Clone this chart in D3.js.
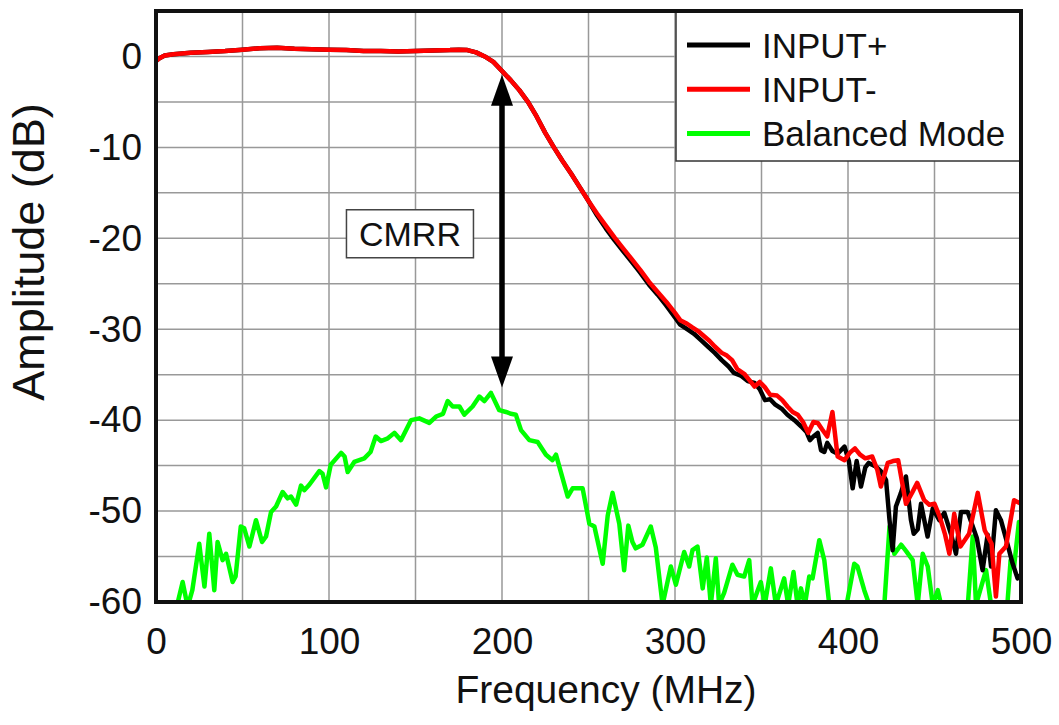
<!DOCTYPE html>
<html><head><meta charset="utf-8">
<script src="https://cdn.jsdelivr.net/npm/d3@7/dist/d3.min.js"></script>
<style>
html,body{margin:0;padding:0;background:#fff;}
svg{display:block;font-family:"Liberation Sans",Arial,sans-serif;}
</style></head><body>
<svg id="chart" width="1059" height="725"></svg>
<script>
// ---------------- DATA ----------------
const xTickValues = [0, 100, 200, 300, 400, 500];
const yTickValues = [0, -10, -20, -30, -40, -50, -60];
const xGridValues = [50, 100, 150, 200, 250, 300, 350, 400, 450];
const yGridValues = [0, -5, -10, -15, -20, -25, -30, -35, -40, -45, -50, -55];
const xTitle = "Frequency (MHz)";
const yTitle = "Amplitude (dB)";
const seriesNames = ["INPUT+", "INPUT-", "Balanced Mode"];
const seriesColors = ["#000000", "#ff0000", "#00ff00"];
const annotationText = "CMRR";
const cmrrFreq = 200, cmrrTopDb = -2.0, cmrrBottomDb = -36.4;
const cmrrLabelFreq = 146.8, cmrrLabelDb = -19.5;

// INPUT- (red)
const freqMinus = [
  0, 2, 5, 10, 20, 30, 40, 50, 60, 70,
  80, 90, 100, 110, 120, 130, 140, 150, 160, 170,
  175, 180, 185, 190, 195, 200, 205, 210, 215, 220,
  225, 230, 235, 240, 245, 250, 255, 260, 265, 270,
  275, 280, 285, 290, 295, 300, 303, 307, 310, 314,
  317, 320, 323, 327, 330, 333, 336, 340, 343, 346,
  349, 352, 355, 359, 362, 365, 368, 371, 374, 377,
  380, 382.5, 385, 388, 391, 394, 398, 401, 404, 407,
  410, 414, 417, 419, 423, 426, 429, 433.5, 437, 440,
  444, 447, 450, 453, 456, 458.6, 461.4, 465, 470, 475,
  479, 483, 485.5, 487.5, 491.3, 496, 500];
const minusDb = [
  -0.5, -0.2, 0.1, 0.25, 0.4, 0.5, 0.6, 0.75, 0.9, 0.95,
  0.85, 0.8, 0.75, 0.7, 0.6, 0.6, 0.55, 0.6, 0.65, 0.7,
  0.75, 0.7, 0.45, 0.0, -0.6, -1.6, -2.6, -3.7, -5.0, -6.6,
  -8.4, -10.0, -11.5, -12.9, -14.4, -15.9, -17.3, -18.6, -19.9, -21.1,
  -22.3, -23.5, -24.8, -25.9, -27.0, -28.2, -29.0, -29.4, -29.8, -30.3,
  -30.8, -31.3, -31.9, -32.6, -32.9, -33.4, -34.4, -34.9, -35.6, -36.3,
  -35.8, -36.4, -37.2, -37.3, -37.8, -38.5, -39.1, -39.4, -40.2, -41.4,
  -40.2, -40.3, -41.0, -41.8, -39.1, -44.0, -44.4, -43.6, -43.1, -43.8,
  -44.2, -44.0, -45.5, -47.3, -44.7, -44.5, -44.4, -49.2, -48.0, -46.9,
  -48.8, -49.3, -49.2, -50.6, -52.5, -54.7, -50.3, -53.9, -52.5, -48.0,
  -52.1, -53.6, -59.4, -54.7, -53.9, -48.8, -49.2];

// INPUT+ (black)
const freqPlus = [
  0, 2, 5, 10, 20, 30, 40, 50, 60, 70,
  80, 90, 100, 110, 120, 130, 140, 150, 160, 170,
  175, 180, 185, 190, 195, 200, 205, 210, 215, 220,
  225, 230, 235, 240, 245, 250, 255, 260, 265, 270,
  275, 280, 285, 290, 295, 300, 303, 307, 311, 315,
  319, 323, 327, 331, 334, 338, 342, 346, 349, 352,
  355, 358, 362, 365, 369, 373, 376, 378, 380, 382.5,
  384.4, 386.3, 388, 391, 394, 398, 400.5, 402.7, 405, 407.5,
  410, 412, 416, 419, 422, 424, 425.8, 427.7, 430.6, 433.5,
  436.4, 438, 440.3, 442.2, 446, 449, 452.8, 455.7, 459.5, 462.4,
  465.3, 469.2, 474.5, 477.8, 480.7, 482.7, 485.5, 488.4, 492, 495.2,
  498, 500];
const plusDb = [
  -0.5, -0.2, 0.1, 0.25, 0.4, 0.5, 0.6, 0.75, 0.9, 0.95,
  0.85, 0.8, 0.75, 0.7, 0.6, 0.6, 0.55, 0.6, 0.65, 0.7,
  0.75, 0.7, 0.45, 0.0, -0.6, -1.6, -2.6, -3.7, -5.0, -6.6,
  -8.4, -10.0, -11.5, -12.9, -14.4, -15.9, -17.5, -18.9, -20.2, -21.4,
  -22.6, -23.8, -25.1, -26.2, -27.4, -28.7, -29.5, -30.0, -30.5, -31.2,
  -31.9, -32.6, -33.4, -34.1, -34.8, -35.1, -35.7, -35.9, -36.6, -37.8,
  -37.7, -38.3, -38.8, -39.4, -40.0, -40.7, -41.3, -42.2, -41.8, -41.4,
  -43.3, -43.5, -42.5, -43.4, -43.7, -42.9, -44.5, -47.5, -44.5, -47.3,
  -45.2, -44.7, -45.1, -45.6, -46.6, -51.0, -54.3, -49.5, -48.0, -46.2,
  -51.0, -52.5, -52.0, -49.2, -52.8, -49.7, -51.0, -50.2, -52.5, -54.7,
  -50.1, -50.1, -53.0, -56.5, -52.6, -56.1, -49.9, -51.0, -53.5, -55.8,
  -57.4, -57.0];

// Balanced Mode (green)
const freqBalanced = [
  8, 12, 15.4, 18.3, 21, 25, 28, 30.8, 33.7, 35.6,
  38.5, 40.5, 44.3, 46, 49, 51, 54, 57.8, 61.3, 63.6,
  66.5, 69.4, 73.2, 76.1, 78, 81, 83.8, 85.7, 88.6, 94.4,
  96.3, 98.3, 101, 107, 109, 110.8, 114.6, 120.4, 124, 127,
  130, 134, 137.8, 141.6, 147.4, 152.2, 158, 161.9, 165.9, 168.6,
  171.5, 175.4, 178.2, 183, 186.9, 189.8, 193.6, 198.4, 202.3, 205.2,
  208, 211, 215.8, 220.6, 225.4, 229.2, 231.2, 238, 240.8, 246.6,
  250.5, 253.4, 258.2, 261.1, 263.9, 267.8, 270.6, 273, 275.4, 277.3,
  281.2, 286, 288.9, 292.8, 297.6, 300.5, 305.3, 308.2, 310.1, 313,
  316, 318.4, 320.7, 323.6, 325.5, 328.4, 333.2, 336.1, 340, 342.9,
  344.8, 349.6, 351.9, 355.4, 358.3, 363.1, 365.4, 368.5, 370.8, 372.8,
  375.1, 377.6, 379.5, 383.4, 386.3, 389.2, 399, 403.6, 405.5, 409.4,
  412.3, 421, 424, 426.8, 430.7, 433.6, 437.4, 440.3, 443.2, 446.1,
  449, 451.9, 453.8, 469.2, 472.1, 474, 477, 479.8, 482.7, 492.1,
  494, 496, 498.8, 500];
const balancedDb = [
  -61, -60.5, -57.8, -60.5, -58.7, -53.6, -58.3, -52.5, -58.7, -53.4,
  -55.4, -54.7, -57.8, -57.2, -51.7, -51.9, -53.9, -51.0, -53.4, -52.8,
  -50.1, -49.5, -47.9, -48.6, -48.4, -49.3, -47.2, -47.7, -47.1, -45.6,
  -45.9, -47.4, -44.9, -43.6, -44.0, -45.7, -44.6, -44.2, -43.5, -41.8,
  -42.3, -42.0, -41.4, -42.2, -40.0, -39.8, -40.3, -39.6, -39.3, -37.9,
  -38.5, -38.5, -39.4, -38.5, -37.4, -37.9, -37.0, -38.9, -39.1, -39.3,
  -39.4, -41.1, -42.2, -42.4, -43.8, -44.4, -43.8, -48.4, -47.5, -47.5,
  -51.4, -51.7, -55.8, -50.5, -48.0, -51.4, -56.5, -51.6, -53.4, -54.1,
  -53.7, -51.7, -54.0, -60.3, -56.1, -58.1, -54.5, -56.1, -54.3, -53.9,
  -58.5, -55.1, -60.3, -55.2, -60.3, -59.0, -55.9, -57.0, -57.2, -55.4,
  -60.3, -57.8, -60.3, -56.3, -60.3, -57.4, -60.3, -56.7, -60.3, -58.5,
  -60.3, -57.2, -57.4, -53.2, -55.4, -60.3, -60.5, -55.8, -56.1, -58.7,
  -60.3, -60.3, -51.7, -54.7, -53.7, -54.4, -55.4, -60.3, -54.7, -56.1,
  -60.3, -58.7, -60.3, -60.5, -52.8, -60.3, -58.3, -56.5, -60.3, -60.3,
  -55.4, -56.1, -51.2, -51.5];

// ---------------- CHART ----------------
const svg = d3.select("#chart");
const plot = {left: 156, right: 1021, top: 11, bottom: 602};
const x = d3.scaleLinear().domain([0, 500]).range([plot.left, plot.right]);
const y = d3.scaleLinear().domain([-60, 5]).range([plot.bottom, plot.top]);

svg.append("defs").append("clipPath").attr("id", "clip")
  .append("rect").attr("x", plot.left).attr("y", plot.top)
  .attr("width", plot.right - plot.left).attr("height", plot.bottom - plot.top);

// grid
const grid = svg.append("g");
grid.selectAll("line.v").data(xGridValues).join("line")
  .attr("x1", d => x(d)).attr("x2", d => x(d))
  .attr("y1", plot.top).attr("y2", plot.bottom)
  .attr("stroke", "#999").attr("stroke-width", 1.5);
grid.selectAll("line.h").data(yGridValues).join("line")
  .attr("y1", d => y(d)).attr("y2", d => y(d))
  .attr("x1", plot.left).attr("x2", plot.right)
  .attr("stroke", "#999").attr("stroke-width", 1.5);

// series
const line = d3.line().x(d => x(d[0])).y(d => y(d[1]));
const series = [
  {name: seriesNames[2], color: seriesColors[2], data: d3.zip(freqBalanced, balancedDb)},
  {name: seriesNames[0], color: seriesColors[0], data: d3.zip(freqPlus, plusDb)},
  {name: seriesNames[1], color: seriesColors[1], data: d3.zip(freqMinus, minusDb)}
];
const lines = svg.append("g").attr("clip-path", "url(#clip)");
lines.selectAll("path").data(series).join("path")
  .attr("d", d => line(d.data))
  .attr("fill", "none").attr("stroke", d => d.color)
  .attr("stroke-width", 4.5).attr("stroke-linejoin", "round").attr("stroke-linecap", "round");

// axes
const tickFont = 37;
const xAxis = svg.append("g").attr("transform", `translate(0,${plot.bottom})`)
  .call(d3.axisBottom(x).tickValues(xTickValues).tickSize(0).tickPadding(26).tickFormat(d => String(d)));
const yAxis = svg.append("g").attr("transform", `translate(${plot.left},0)`)
  .call(d3.axisLeft(y).tickValues(yTickValues).tickSize(0).tickPadding(14).tickFormat(d => String(d)));
[xAxis, yAxis].forEach(a => {
  a.select(".domain").remove();
  a.selectAll("text").attr("font-size", tickFont).attr("fill", "#111")
    .attr("font-family", "'Liberation Sans', Arial, sans-serif");
});

// titles
svg.append("text").attr("x", 606).attr("y", 703).attr("text-anchor", "middle")
  .attr("font-size", 39).attr("fill", "#111").text(xTitle);
svg.append("text").attr("transform", "translate(44,252) rotate(-90)")
  .attr("text-anchor", "middle").attr("font-size", 45).attr("fill", "#111").text(yTitle);

// CMRR arrow
const ax = x(cmrrFreq), yTopTip = y(cmrrTopDb), yBotTip = y(cmrrBottomDb);
const headL = 31, headW = 11;
svg.append("line").attr("x1", ax).attr("x2", ax)
  .attr("y1", yTopTip + headL - 2).attr("y2", yBotTip - headL + 2)
  .attr("stroke", "#000").attr("stroke-width", 5.5);
svg.append("path").attr("fill", "#000")
  .attr("d", `M${ax},${yTopTip} L${ax - headW},${yTopTip + headL} L${ax + headW},${yTopTip + headL} Z`);
svg.append("path").attr("fill", "#000")
  .attr("d", `M${ax},${yBotTip} L${ax - headW},${yBotTip - headL} L${ax + headW},${yBotTip - headL} Z`);

// CMRR label
const lx = x(cmrrLabelFreq), ly = y(cmrrLabelDb);
svg.append("rect").attr("x", lx - 63.5).attr("y", ly - 24).attr("width", 127).attr("height", 48)
  .attr("fill", "#fff").attr("stroke", "#444").attr("stroke-width", 1.5);
svg.append("text").attr("x", lx).attr("y", ly + 12.5).attr("text-anchor", "middle")
  .attr("font-size", 34).attr("fill", "#111").text(annotationText);

// legend
const legend = svg.append("g");
legend.append("rect").attr("x", 676).attr("y", plot.top).attr("width", plot.right - 676).attr("height", 161 - plot.top)
  .attr("fill", "#fff").attr("stroke", "#333").attr("stroke-width", 1.5);
const legendRows = [0, 1, 2].map(i => ({name: seriesNames[i], color: seriesColors[i], cy: 45 + i * 44.2}));
legend.selectAll("line.item").data(legendRows).join("line")
  .attr("x1", 687).attr("x2", 750).attr("y1", d => d.cy).attr("y2", d => d.cy)
  .attr("stroke", d => d.color).attr("stroke-width", 5);
legend.selectAll("text.item").data(legendRows).join("text")
  .attr("x", 762).attr("y", d => d.cy + 12.5)
  .attr("font-size", 35).attr("fill", "#111").text(d => d.name);

// frame
svg.append("rect").attr("x", plot.left).attr("y", plot.top)
  .attr("width", plot.right - plot.left).attr("height", plot.bottom - plot.top)
  .attr("fill", "none").attr("stroke", "#111").attr("stroke-width", 4);
</script>
</body></html>
